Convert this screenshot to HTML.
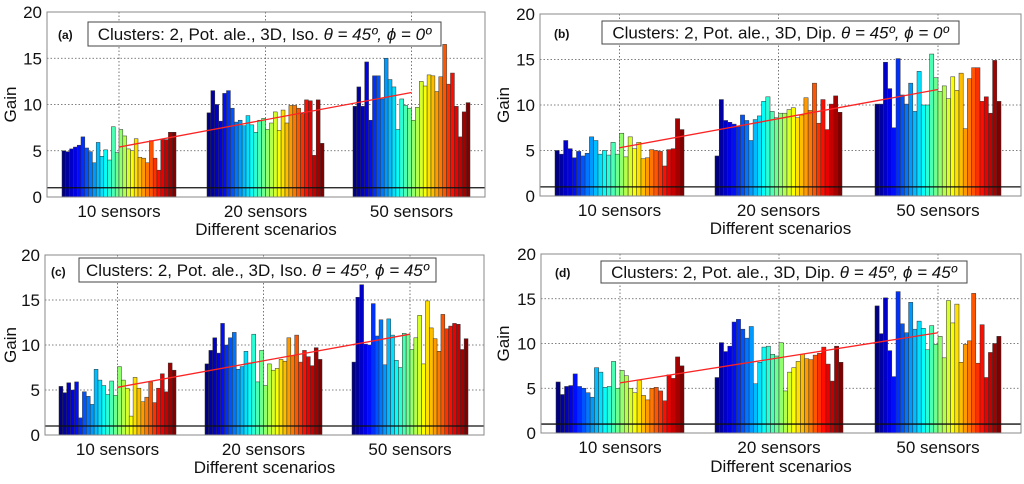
<!DOCTYPE html>
<html><head><meta charset="utf-8"><style>
body{margin:0;background:#fff;width:1024px;height:479px;overflow:hidden}
svg{font-family:"Liberation Sans",sans-serif}
</style></head><body>
<svg id="c" width="1024" height="479"></svg>
<script>
const categories=["10 sensors","20 sensors","50 sensors"];
const yTicks=[0,5,10,15,20];
const a10=[5.0,4.9,5.2,5.4,5.6,6.5,5.3,4.9,3.7,5.9,4.4,5.1,4.0,7.6,4.8,7.3,6.6,5.2,5.0,6.3,4.3,4.2,3.7,6.1,4.2,2.9,6.2,6.2,7.0,7.0];
const a20=[9.1,11.5,10.0,8.2,11.2,11.5,9.6,8.1,8.3,7.7,8.8,7.8,7.0,8.3,8.5,7.3,8.0,9.2,7.2,9.4,8.0,9.9,9.9,9.6,9.0,10.5,10.4,4.5,10.5,5.8];
const a50=[9.8,11.9,9.8,14.6,8.3,13.1,13.1,10.6,15.0,12.7,11.9,7.3,10.6,9.9,9.6,8.3,9.7,12.5,12.0,13.2,13.1,11.4,13.0,16.5,12.2,13.4,9.8,6.5,9.2,10.2];
const b10=[5.0,4.6,6.1,5.2,4.2,4.9,4.4,4.7,6.5,6.1,4.6,5.0,4.5,5.9,4.6,6.9,4.3,6.5,5.2,5.9,4.1,4.2,5.1,5.0,4.9,3.3,5.1,5.2,8.5,7.3];
const b20=[4.4,10.6,8.3,8.1,7.9,7.6,8.9,8.3,6.1,8.4,8.8,10.4,10.9,9.3,8.6,9.1,9.1,9.5,9.7,8.6,8.9,10.8,9.4,12.4,8.0,10.6,7.3,10.1,11.0,9.2];
const b50=[10.1,10.1,14.7,11.8,7.5,15.1,11.1,10.1,12.4,9.3,13.7,10.0,10.0,15.6,13.0,11.5,12.1,10.7,13.1,11.6,13.5,7.4,12.9,14.1,14.1,10.4,10.9,9.1,14.9,10.4];
const c10=[5.4,4.7,5.8,5.0,5.9,1.9,4.8,4.3,3.4,7.3,6.1,5.5,4.5,6.0,4.4,7.6,6.1,5.2,2.1,6.4,5.2,3.7,4.2,5.9,3.6,5.2,6.8,4.8,8.0,7.2];
const c20=[7.9,9.4,10.8,9.1,12.4,10.0,10.8,11.4,7.3,7.6,9.3,8.0,11.2,5.9,9.4,5.5,7.9,7.2,7.4,8.4,8.2,10.8,8.8,11.1,8.1,9.4,8.7,7.7,9.7,8.4];
const c50=[8.1,15.3,16.7,10.1,10.0,14.6,11.0,12.8,7.8,12.9,11.1,8.3,7.5,11.3,11.2,9.5,10.8,13.3,7.9,14.9,11.9,10.7,9.3,13.4,11.8,12.1,12.4,12.3,9.5,10.7];
const d10=[5.7,4.3,5.2,5.3,6.6,5.2,5.0,4.5,4.0,7.3,6.8,5.1,5.2,8.0,5.0,7.0,6.4,5.0,4.5,5.9,4.2,3.7,5.0,5.1,4.7,3.6,6.5,6.1,8.5,7.5];
const d20=[6.2,10.1,9.1,9.7,12.4,12.7,11.6,10.6,11.9,5.5,7.9,9.6,9.7,8.8,8.6,10.1,4.7,6.8,7.3,8.0,8.8,8.3,8.2,8.7,8.9,9.6,7.7,5.8,9.7,7.9];
const d50=[14.2,11.1,15.1,9.2,6.3,15.8,12.2,11.2,14.6,11.6,12.5,11.7,9.3,12.0,9.9,10.8,8.4,14.8,12.3,14.4,7.9,9.9,10.3,15.6,7.8,12.1,6.2,9.0,10.0,10.8];
const trendA=[5.4,11.3], trendB=[5.3,11.7], trendC=[5.3,11.2], trendD=[5.6,11.2];
const baseline=1;

const NS="http://www.w3.org/2000/svg";
const svg=document.getElementById('c');
function mk(tag,at,parent){const e=document.createElementNS(NS,tag);for(const k in at)e.setAttribute(k,at[k]);(parent||svg).appendChild(e);return e;}
function jet(t){const r=Math.min(Math.max(Math.min(4*t-1.5,-4*t+4.5),0),1),g=Math.min(Math.max(Math.min(4*t-0.5,-4*t+3.5),0),1),b=Math.min(Math.max(Math.min(4*t+0.5,-4*t+2.5),0),1);return `rgb(${Math.round(r*255)},${Math.round(g*255)},${Math.round(b*255)})`;}

const panels=[
 {id:'a',L:47,R:485,T:12,B:197,groups:[[62,176],[207,324],[353,470]],data:[a10,a20,a50],trend:trendA,label:'(a)',lx:58,ly:39,box:[88,22,353,24],title:'Clusters: 2, Pot. ale., 3D, Iso.  <tspan font-style="italic">θ = 45º, ϕ = 0º</tspan>',gainX:10,xlabY:217,dsY:235},
 {id:'b',L:540,R:1021,T:14,B:196,groups:[[555,684],[715,842],[875,1001]],data:[b10,b20,b50],trend:trendB,label:'(b)',lx:554,ly:38,box:[602,21,357,23],title:'Clusters: 2, Pot. ale., 3D, Dip.  <tspan font-style="italic">θ = 45º, ϕ = 0º</tspan>',gainX:503,xlabY:216,dsY:234},
 {id:'c',L:45,R:484,T:255,B:435,groups:[[59,176],[205,322],[352,468]],data:[c10,c20,c50],trend:trendC,label:'(c)',lx:51,ly:276,box:[79,258,357,24],title:'Clusters: 2, Pot. ale., 3D, Iso. <tspan font-style="italic">θ = 45º, ϕ = 45º</tspan>',gainX:10,xlabY:455,dsY:473},
 {id:'d',L:541,R:1021,T:254,B:433,groups:[[556,684],[715,843],[875,1001]],data:[d10,d20,d50],trend:trendD,label:'(d)',lx:555,ly:277,box:[601,261,366,22],title:'Clusters: 2, Pot. ale., 3D,  Dip. <tspan font-style="italic">θ = 45º, ϕ = 45º</tspan>',gainX:503,xlabY:453,dsY:472}
];

panels.forEach(p=>{
 const g=mk('g',{});
 
 
 const y=v=>p.B-(v/20)*(p.B-p.T);
 const centers=p.groups.map(gr=>(gr[0]+gr[1])/2);
 yTicks.forEach(t=>{
  if(t>0&&t<20){const l=mk('line',{x1:p.L,x2:p.R,y1:y(t),y2:y(t),stroke:'#555','stroke-width':0.8,'stroke-dasharray':'1.5,2'},g);}
  const tx=mk('text',{x:p.L-5,y:y(t)+6,'text-anchor':'end','font-size':17,fill:'#111'},g);tx.textContent=t;
  
 });
 centers.forEach((cx,i)=>{
  const l=mk('line',{x1:cx,x2:cx,y1:p.T,y2:p.B,stroke:'#555','stroke-width':0.8,'stroke-dasharray':'1.5,2'},g);
  
 });
 p.data.forEach((arr,gi)=>{
  const [x0,x1]=p.groups[gi];const w=(x1-x0)/arr.length;
  arr.forEach((v,i)=>{
   const r=mk('rect',{x:x0+i*w,y:y(v),width:w,height:p.B-y(v),fill:jet(i/(arr.length-1)),stroke:'#333','stroke-width':0.5},g);
   
   
  });
 });
 const bl=mk('line',{x1:p.L,x2:p.R,y1:y(baseline),y2:y(baseline),stroke:'#111','stroke-width':1.3},g);
 
 const tr=mk('line',{x1:centers[0],y1:y(p.trend[0]),x2:centers[2],y2:y(p.trend[1]),stroke:'#f22','stroke-width':1.3},g);
 
 const fr=mk('rect',{x:p.L,y:p.T,width:p.R-p.L,height:p.B-p.T,fill:'none',stroke:'#888','stroke-width':1},g);
 
 const bx=mk('rect',{x:p.box[0],y:p.box[1],width:p.box[2],height:p.box[3],fill:'#fff',stroke:'#444','stroke-width':1},g);
 
 const tt=mk('text',{x:p.box[0]+p.box[2]/2,y:p.box[1]+p.box[3]/2+6,'text-anchor':'middle','font-size':17,fill:'#111'},g);
 tt.innerHTML=p.title;
 const lb=mk('text',{x:p.lx,y:p.ly,'font-size':12,'font-weight':'bold',fill:'#111'},g);lb.textContent=p.label;
 
 categories.forEach((c,i)=>{
  const t=mk('text',{x:centers[i],y:p.xlabY,'text-anchor':'middle','font-size':17,fill:'#111'},g);t.textContent=c;
  
 });
 const ds=mk('text',{x:(p.L+p.R)/2,y:p.dsY,'text-anchor':'middle','font-size':17,fill:'#111'},g);ds.textContent='Different scenarios';
 
 const ga=mk('text',{x:0,y:0,'text-anchor':'middle','font-size':17,fill:'#111',transform:`translate(${p.gainX+6},${(p.T+p.B)/2}) rotate(-90)`},g);ga.textContent='Gain';
 
});
</script>
</body></html>
